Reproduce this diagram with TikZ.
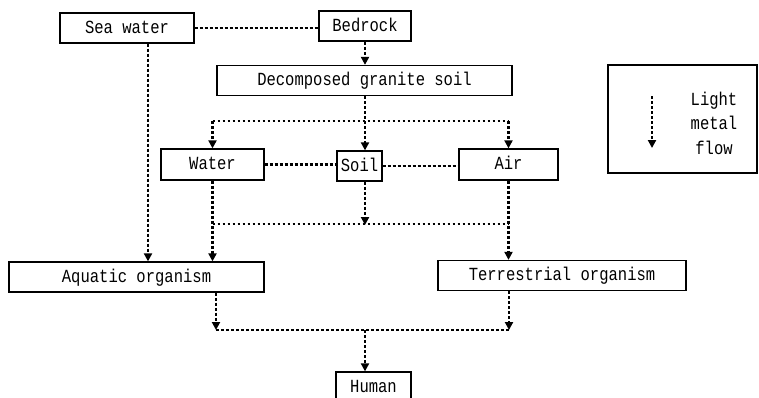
\documentclass[tikz,border=0pt]{standalone}
\usepackage{fontspec}
\newfontfamily\gothic[FakeStretch=0.84]{Liberation Mono}
\usetikzlibrary{arrows.meta}
\tikzset{
  box/.style={draw, line width=1.3pt, minimum height=30pt, inner sep=0pt,
    text height=12.4pt, text depth=1.5pt, font=\gothic\fontsize{18.5}{22}\selectfont},
  flow/.style={line width=2.9pt, dash pattern=on 2.9pt off 2.1pt},
  flowto/.style={flow, -{Triangle[length=8pt,width=8pt]}}
}
\begin{document}
\begin{tikzpicture}[x=1pt,y=-1pt]
\useasboundingbox (0,0) rectangle (759,397);
\clip (0,0) rectangle (759,397);
\node[box, minimum width=134pt] (sea) at (127,28) {Sea water};
\node[box, minimum width=92pt] (bedrock) at (365,26) {Bedrock};
\node[box, minimum width=295pt] (granite) at (364.5,80.5) {Decomposed granite soil};
\node[box, minimum width=103pt, minimum height=31pt] (water) at (212.5,164.5) {Water};
\node[box, minimum width=45pt] (soil) at (359.5,166) {Soil};
\node[box, minimum width=99pt, minimum height=31pt] (air) at (508.5,164.5) {Air};
\node[box, minimum width=255pt] (aquatic) at (136.5,277) {Aquatic organism};
\node[box, minimum width=248pt] (terrestrial) at (562,275.5) {Terrestrial organism};
\node[box, minimum width=75pt] (human) at (373.5,387) {Human};
\coordinate (cs) at (148,0);
\coordinate (cm) at (365,0);
\coordinate (ca) at (216,0);
\coordinate (ct) at (509,0);
\coordinate (j1) at (0,121);
\coordinate (j2) at (0,224);
\coordinate (j3) at (0,330);
\draw[flow] (sea.east) -- (sea.east -| bedrock.west);
\draw[flowto] (sea.south -| cs) -- (aquatic.north -| cs);
\draw[flowto] (bedrock.south -| cm) -- (granite.north -| cm);
\draw[flow] (granite.south -| cm) -- (j1 -| cm);
\draw[flow] (j1 -| water) -- (j1 -| air);
\foreach \n in {water,air}
  \draw[flowto] (j1 -| \n) -- (\n.north);
\draw[flowto] (j1 -| cm) -- (soil.north -| cm);
\draw[flow] (water.east) -- (water.east -| soil.west);
\draw[flow] (soil.east) -- (soil.east -| air.west);
\draw[flowto] (water.south) -- (aquatic.north -| water);
\draw[flow] (j2 -| water) -- (j2 -| air);
\draw[flowto] (soil.south -| cm) -- ([yshift=-1pt]j2 -| cm);
\draw[flowto] (air.south) -- (terrestrial.north -| air);
\draw[flowto] (aquatic.south -| ca) -- (j3 -| ca);
\draw[flowto] (terrestrial.south -| ct) -- (j3 -| ct);
\draw[flow] (j3 -| ca) -- (j3 -| ct);
\draw[flowto] (j3 -| cm) -- (human.north -| cm);
\node[draw, line width=1.4pt, minimum width=149pt, minimum height=108pt] (legend) at (682.5,119) {};
\coordinate (l1) at (652,96);
\coordinate (l2) at (652,148);
\draw[flowto] (l1) -- (l2);
\node[align=center, inner sep=0pt, font=\gothic\fontsize{18.5}{24.5}\selectfont] (ltext) at (714,123) {Light\\metal\\flow};
\end{tikzpicture}
\end{document}
